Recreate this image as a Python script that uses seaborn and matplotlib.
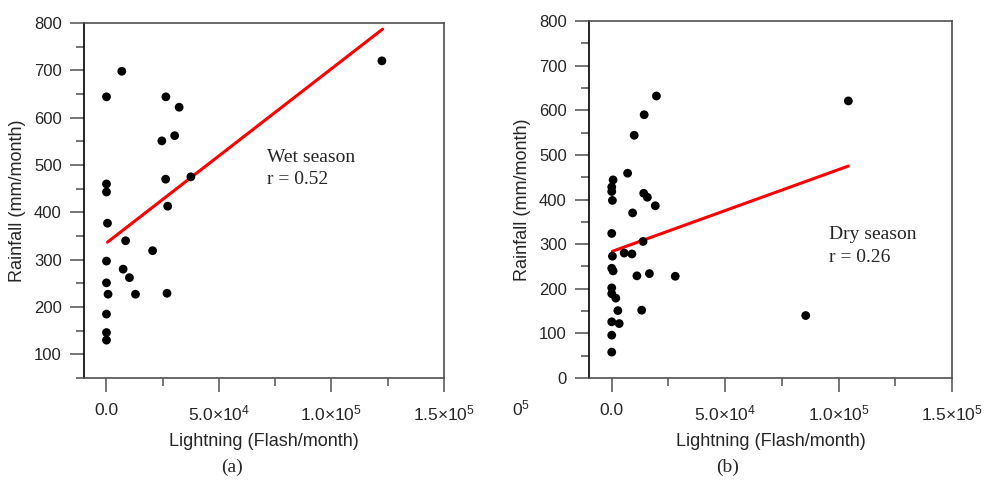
"""
Rainfall vs lightning scatter, wet season (a) and dry season (b)
"""
import matplotlib
matplotlib.use("Agg")
import matplotlib.pyplot as plt
from matplotlib.ticker import MultipleLocator
import seaborn as sns
import pandas as pd

# ----------------------------------------------------------
# Data
# ----------------------------------------------------------
wet_lightning = [0, 6800, 0, 0, 450, 0, 0, 700, 0, 0, 0,
                 8500, 7400, 10200, 12900, 20500, 26400, 32300,
                 24600, 30300, 26300, 37500, 27200, 26900, 122400]
wet_rainfall = [644, 698, 460, 443, 377, 297, 251, 227, 185, 146, 130,
                340, 280, 262, 227, 319, 644, 622,
                551, 562, 470, 475, 413, 229, 720]
wet_fit_x = [450, 122700]
wet_fit_y = [337, 787]

dry_lightning = [0, 0, 0, 3300, 2700, 1800, 0, 0, 0, 600, 300, 0,
                 300, 0, 0, 600, 5500, 8900, 7000, 9200, 9900, 11100,
                 14300, 14100, 15700, 19200, 13800, 13200, 16600, 19700,
                 28000, 85500, 104300]
dry_rainfall = [58, 96, 126, 122, 151, 179, 189, 202, 246, 240, 273, 324,
                398, 418, 428, 444, 280, 278, 459, 370, 544, 229,
                590, 414, 405, 386, 306, 152, 234, 632,
                228, 140, 621]
dry_fit_x = [300, 104300]
dry_fit_y = [284, 475]

x_ticks = [0, 50000, 100000, 150000]
x_tick_labels = ["0.0", "5.0×10$^{4}$", "1.0×10$^{5}$", "1.5×10$^{5}$"]

# ----------------------------------------------------------
# Style
# ----------------------------------------------------------
sns.set_style("ticks")
plt.rcParams["font.family"] = ["Liberation Sans", "DejaVu Sans"]
plt.rcParams["mathtext.fontset"] = "custom"
plt.rcParams["mathtext.rm"] = "Liberation Sans"
plt.rcParams["mathtext.it"] = "Liberation Sans"
SERIF = ["Liberation Serif", "DejaVu Serif"]
SPINE = "#505050"

fig = plt.figure(figsize=(9.88, 4.87), dpi=100)
ax_a = fig.add_axes([0.085, 0.2238, 0.3644, 0.729])
ax_b = fig.add_axes([0.5962, 0.2238, 0.3674, 0.733])


def draw_panel(ax, xs, ys, fx, fy, ylim, label, r_text, txt_xy):
    df = pd.DataFrame({"x": xs, "y": ys})
    sns.scatterplot(data=df, x="x", y="y", ax=ax, color="black",
                    s=40, edgecolor="none", zorder=3)
    sns.lineplot(x=fx, y=fy, ax=ax, color="red", linewidth=2.2,
                 zorder=2, estimator=None)
    ax.set_xlim(-10000, 150000)
    ax.set_ylim(*ylim)
    ax.set_xticks(x_ticks)
    ax.set_xticklabels(x_tick_labels)
    ax.xaxis.set_minor_locator(MultipleLocator(25000))
    ax.yaxis.set_major_locator(MultipleLocator(100))
    ax.yaxis.set_minor_locator(MultipleLocator(50))
    ax.tick_params(which="major", length=10, width=1.1, color=SPINE,
                   direction="out")
    ax.tick_params(which="minor", length=6, width=1.1, color=SPINE,
                   direction="out")
    ax.tick_params(axis="x", which="major", pad=8, labelsize=12.5)
    ax.tick_params(axis="y", which="major", pad=6, labelsize=12)
    for side in ["left", "right", "top", "bottom"]:
        ax.spines[side].set_visible(True)
        ax.spines[side].set_color(SPINE)
        ax.spines[side].set_linewidth(1.2)
    ax.spines["left"].set_color("black")
    ax.set_xlabel("Lightning (Flash/month)", fontsize=13, labelpad=7)
    ax.set_ylabel("Rainfall (mm/month)", fontsize=13, labelpad=6)
    ax.text(txt_xy[0], txt_xy[1], label + "\n" + r_text,
            transform=ax.transAxes, family=SERIF, fontsize=14,
            va="center", ha="left", linespacing=1.4)


draw_panel(ax_a, wet_lightning, wet_rainfall, wet_fit_x, wet_fit_y,
           (50, 800), "Wet season", "r = 0.52", (0.508, 0.59))
draw_panel(ax_b, dry_lightning, dry_rainfall, dry_fit_x, dry_fit_y,
           (0, 800), "Dry season", "r = 0.26", (0.661, 0.37))

fig.text(232 / 988, 1 - 467 / 487, "(a)", family=SERIF, fontsize=14,
         ha="center", va="center")
fig.text(728 / 988, 1 - 467 / 487, "(b)", family=SERIF, fontsize=14,
         ha="center", va="center")
# clipped fragment of a tick label in the original
fig.text(512 / 988, 1 - 408 / 487, "0$^{5}$", fontsize=12.5,
         ha="left", va="center")

fig.savefig("out.png", dpi=100)
plt.close(fig)
